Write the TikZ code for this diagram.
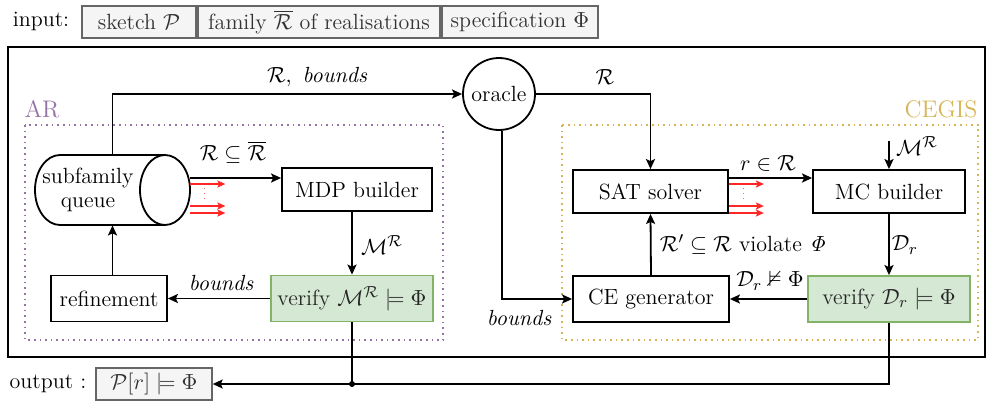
\documentclass[tikz,border=0pt]{standalone}
\usepackage{amsmath,amssymb}
\usetikzlibrary{arrows.meta}
\definecolor{arcol}{HTML}{9673A6}
\definecolor{cgcol}{HTML}{D6B656}
\definecolor{grfill}{HTML}{D5E8D4}
\definecolor{grline}{HTML}{82B366}
\definecolor{iofill}{HTML}{F5F5F5}
\definecolor{ioline}{HTML}{666666}
\definecolor{iotext}{HTML}{333333}
\tikzset{
  every node/.style={font=\fontsize{11}{13}\selectfont, inner sep=0pt},
  stepbox/.style={draw, line width=0.9pt, fill=white, minimum height=21.5pt},
  checkbox/.style={draw=grline, line width=0.9pt, fill=grfill, text=black!85, minimum height=23pt, minimum width=81pt},
  iobox/.style={draw=ioline, line width=0.7pt, fill=iofill, text=iotext, minimum height=16pt},
  arr/.style={line width=0.9pt, -{Stealth[length=5pt,width=4.5pt,inset=1pt]}},
  redarr/.style={red!85!white, line width=0.8pt, -{Stealth[length=4pt,width=3.5pt,inset=0.8pt]}},
  plain/.style={line width=0.9pt},
  lbl/.style={text=black}
}
\begin{document}
\begin{tikzpicture}[x=0.5pt, y=-0.5pt]
\useasboundingbox (0,0) rectangle (987,402);

% inputs
\node (inlabel) at (41,21) {input:};
\node[iobox, minimum width=57pt] (insketch) at (139,22) {sketch $\mathcal{P}$};
\node[iobox, minimum width=121pt] (infamily) at (319,22) {family $\overline{\mathcal{R}}$ of realisations};
\node[iobox, minimum width=78pt] (inspec) at (520,22) {specification $\Phi$};

% outer frame and the two method regions
\draw[line width=0.9pt] (8,47) rectangle (985,357);
\draw[arcol, dotted, line width=0.8pt] (25,125) rectangle (443,340);
\draw[cgcol, dotted, line width=0.8pt] (562,125) rectangle (978,340);
\node[text=arcol, font=\fontsize{12}{14}\selectfont] (artitle) at (42,109) {AR};
\node[text=cgcol, font=\fontsize{12}{14}\selectfont] (cgtitle) at (941,109) {CEGIS};

% subfamily queue (horizontal cylinder)
\node[minimum width=77.5pt, minimum height=35pt] (queue) at (112.5,190) {};
\draw[line width=0.9pt, fill=white]
  (165,155) -- (60,155)
  .. controls (46.2,155) and (35,170.7) .. (35,190)
  .. controls (35,209.3) and (46.2,225) .. (60,225) -- (165,225);
\draw[line width=0.9pt] (165,190) ellipse [x radius=12.5pt, y radius=17.5pt];
\node[align=center] (queuetext) at (88,190) {subfamily\\[-1pt]queue};

% AR blocks
\node[stepbox, minimum width=75pt] (mdp) at (357,189.5) {MDP builder};
\node[checkbox] (verA) at (352,298.5) {verify $\mathcal{M}^{\mathcal{R}} \models \Phi$};
\node[stepbox, minimum width=58pt, minimum height=23pt] (refine) at (109,298.5) {refinement};

% oracle
\node[draw, circle, line width=0.9pt, minimum size=36pt, fill=white] (oracle) at (499,94) {oracle};

% CEGIS blocks
\node[stepbox, minimum width=77.5pt] (sat) at (650.5,191.5) {SAT solver};
\node[stepbox, minimum width=76pt] (mc) at (889,191.5) {MC builder};
\node[checkbox] (verC) at (889,299) {verify $\mathcal{D}_r \models \Phi$};
\node[stepbox, minimum width=78pt, minimum height=23pt] (ceg) at (651,299) {CE generator};

% output
\node (outlabel) at (48,384) {output :};
\node[iobox, minimum width=58pt] (outbox) at (154,384) {$\mathcal{P}[r] \models \Phi$};

% AR connectors
\draw[arr] ([yshift=6pt]queue.east) -- ([yshift=6pt]queue.east -| mdp.west);
\draw[redarr] ([yshift=3pt]queue.east) -- ++(35,0);
\draw[redarr] ([yshift=-8pt]queue.east) -- ++(35,0);
\draw[redarr] ([yshift=-11.5pt]queue.east) -- ++(35,0);
\draw[red!60!white, dotted, line width=0.5pt] (204,188) -- (204,200);
\draw[arr] (mdp.south -| verA.north) -- (verA.north);
\draw[arr] (verA.west) -- (refine.east);
\draw[arr] (refine.north -| queue.south) -- (queue.south);
\draw[arr] (queue.north) |- (oracle.west);

% oracle connectors
\draw[arr] (oracle.east) -| (sat.north);
\draw[arr] ([xshift=1.5pt]oracle.south) |- (ceg.west);

% CEGIS connectors
\draw[arr] ([yshift=6.75pt]sat.east) -- ([yshift=6.75pt]sat.east -| mc.west);
\draw[redarr] ([yshift=3.75pt]sat.east) -- ++(35,0);
\draw[redarr] ([yshift=-7.25pt]sat.east) -- ++(35,0);
\draw[redarr] ([yshift=-10.75pt]sat.east) -- ++(35,0);
\draw[red!60!white, dotted, line width=0.5pt] (743,188) -- (743,200);
\coordinate (mrin) at (889,141);
\draw[arr] (mrin) -- (mc.north);
\draw[arr] (mc.south) -- (verC.north);
\draw[arr] (verC.west) -- (ceg.east);
\draw[arr] (ceg.north) -- (sat.south);

% results to the output
\coordinate (join) at (verA.south |- outbox.east);
\draw[plain] (verA.south) -- (join);
\draw[arr] (verC.south) |- (outbox.east);
\fill (join) circle (1.5pt);

% edge labels
\node[lbl] (lbbounds) at (318,77) {$\mathcal{R},\ \mathit{bounds}$};
\node[lbl] (lbr) at (605,77) {$\mathcal{R}$};
\node[lbl] (lbsub) at (233,152) {$\mathcal{R} \subseteq \overline{\mathcal{R}}$};
\node[lbl] (lbmA) at (382,245) {$\mathcal{M}^{\mathcal{R}}$};
\node[lbl] (lbbA) at (222,283) {$\mathit{bounds}$};
\node[lbl] (lbrin) at (768,163) {$r \in \mathcal{R}$};
\node[lbl] (lbmC) at (917,146) {$\mathcal{M}^{\mathcal{R}}$};
\node[lbl] (lbdr) at (905,245) {$\mathcal{D}_r$};
\node[lbl] (lbviol) at (743,245) {$\mathcal{R}' \subseteq \mathcal{R}$ violate $\mathit{\Phi}$};
\node[lbl] (lbnot) at (770,281) {$\mathcal{D}_r \nvDash \Phi$};
\node[lbl] (lbbC) at (520,318) {$\mathit{bounds}$};
\end{tikzpicture}
\end{document}
